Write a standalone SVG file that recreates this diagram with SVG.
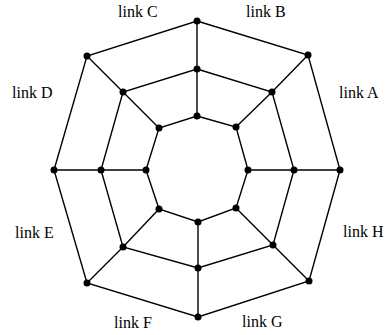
<svg xmlns="http://www.w3.org/2000/svg" width="387" height="335" viewBox="0 0 387 335">
<style>
.e{stroke:#000;stroke-width:1.4;fill:none;stroke-linecap:round}
.n{fill:#000}
.l{font-family:"Liberation Serif","Times New Roman",serif;font-size:16px;fill:#000}
</style>
<rect width="387" height="335" fill="#fff"/>
<g id="connectors">
<path class="e" d="M197,21 L308,55 L340,170 L309,281 L198,317 L87,283 L54,170 L87,56 Z"/>
<path class="e" d="M197,69 L272,92 L294,170 L273,245 L198,268 L123,247 L101,170 L123,92 Z"/>
<path class="e" d="M197,116 L236,127 L248,170 L236,208 L198,222 L159,209 L146,170 L159,128 Z"/>
<path class="e" d="M197,21 L197,69 L197,116"/>
<path class="e" d="M308,55 L272,92 L236,127"/>
<path class="e" d="M340,170 L294,170 L248,170"/>
<path class="e" d="M309,281 L273,245 L236,208"/>
<path class="e" d="M198,317 L198,268 L198,222"/>
<path class="e" d="M87,283 L123,247 L159,209"/>
<path class="e" d="M54,170 L101,170 L146,170"/>
<path class="e" d="M87,56 L123,92 L159,128"/>
</g>
<g id="O0"><circle class="n" cx="197" cy="21" r="3.5"/></g>
<g id="O1"><circle class="n" cx="308" cy="55" r="3.5"/></g>
<g id="O2"><circle class="n" cx="340" cy="170" r="3.5"/></g>
<g id="O3"><circle class="n" cx="309" cy="281" r="3.5"/></g>
<g id="O4"><circle class="n" cx="198" cy="317" r="3.5"/></g>
<g id="O5"><circle class="n" cx="87" cy="283" r="3.5"/></g>
<g id="O6"><circle class="n" cx="54" cy="170" r="3.5"/></g>
<g id="O7"><circle class="n" cx="87" cy="56" r="3.5"/></g>
<g id="M0"><circle class="n" cx="197" cy="69" r="3.5"/></g>
<g id="M1"><circle class="n" cx="272" cy="92" r="3.5"/></g>
<g id="M2"><circle class="n" cx="294" cy="170" r="3.5"/></g>
<g id="M3"><circle class="n" cx="273" cy="245" r="3.5"/></g>
<g id="M4"><circle class="n" cx="198" cy="268" r="3.5"/></g>
<g id="M5"><circle class="n" cx="123" cy="247" r="3.5"/></g>
<g id="M6"><circle class="n" cx="101" cy="170" r="3.5"/></g>
<g id="M7"><circle class="n" cx="123" cy="92" r="3.5"/></g>
<g id="I0"><circle class="n" cx="197" cy="116" r="3.5"/></g>
<g id="I1"><circle class="n" cx="236" cy="127" r="3.5"/></g>
<g id="I2"><circle class="n" cx="248" cy="170" r="3.5"/></g>
<g id="I3"><circle class="n" cx="236" cy="208" r="3.5"/></g>
<g id="I4"><circle class="n" cx="198" cy="222" r="3.5"/></g>
<g id="I5"><circle class="n" cx="159" cy="209" r="3.5"/></g>
<g id="I6"><circle class="n" cx="146" cy="170" r="3.5"/></g>
<g id="I7"><circle class="n" cx="159" cy="128" r="3.5"/></g>
<g id="labels">
<text class="l" x="118" y="17">link C</text>
<text class="l" x="246" y="17">link B</text>
<text class="l" x="339" y="98">link A</text>
<text class="l" x="12" y="98">link D</text>
<text class="l" x="15" y="238">link E</text>
<text class="l" x="343" y="237">link H</text>
<text class="l" x="114" y="328">link F</text>
<text class="l" x="242" y="327">link G</text>
</g>
</svg>
